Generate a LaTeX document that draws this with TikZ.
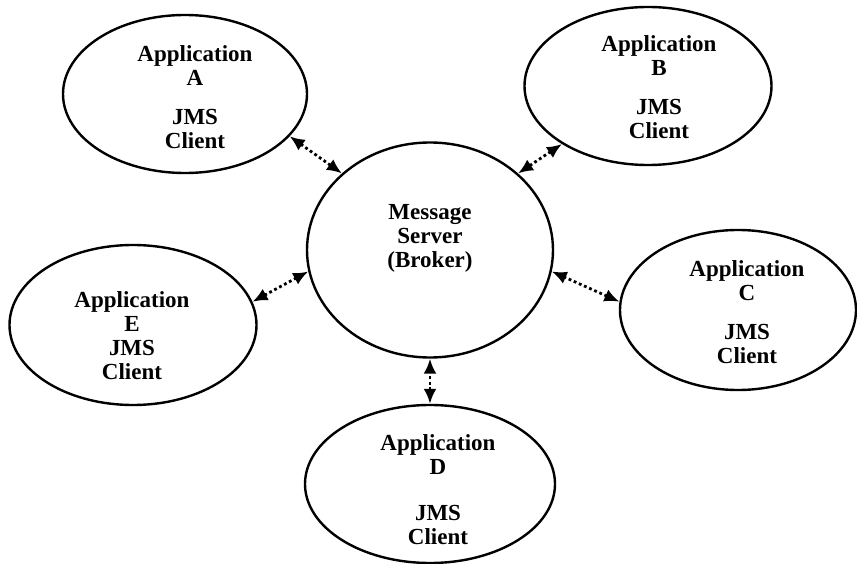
\documentclass[tikz,border=0pt]{standalone}
\usepackage{fontspec}
\setmainfont{Liberation Serif}
\usetikzlibrary{arrows.meta,shapes.geometric}

\tikzset{
  app/.style={ellipse, draw=black, line width=2.4pt, inner sep=0pt,
    minimum width=244pt, minimum height=158pt},
  lbl/.style={align=center, inner sep=0pt,
    font=\bfseries\fontsize{23}{24}\selectfont},
  link/.style={line width=2.8pt, dash pattern=on 2.8pt off 2.8pt,
    {Latex[length=15pt,width=13pt]}-{Latex[length=15pt,width=13pt]}},
}

\begin{document}
\begin{tikzpicture}[x=1pt,y=-1pt]
  \useasboundingbox (0,0) rectangle (857,564);

  % message server in the middle
  \node[app, minimum width=246pt, minimum height=215pt] (srv) at (430,250) {};
  \node[lbl] (srvtext) at (430,238) {Message\\Server\\(Broker)};

  % client applications around it
  \node[app] (appA) at (185,94) {};
  \node[lbl] (textA) at (195,97) {Application\\A\\[15pt]JMS\\Client};

  \node[app, minimum width=247pt] (appB) at (648,86) {};
  \node[lbl] (textB) at (659,87) {Application\\B\\[15pt]JMS\\Client};

  \node[app, minimum width=236pt, minimum height=160pt] (appC) at (738,310) {};
  \node[lbl] (textC) at (747,312) {Application\\C\\[15pt]JMS\\Client};

  \node[app, minimum width=250pt] (appD) at (430,484) {};
  \node[lbl] (textD) at (438,490) {Application\\D\\[22pt]JMS\\Client};

  \node[app, minimum width=247pt, minimum height=160pt] (appE) at (133,325) {};
  \node[lbl] (textE) at (132,336) {Application\\E\\JMS\\Client};

  % two-way links between the server and each client
  \draw[link] (appA.-22) -- (srv.139);
  \draw[link] (appB.214) -- (srv.41);
  \draw[link] (appC.176) -- (srv.-10);
  \draw[link] (appD.north) -- (srv.south);
  \draw[link] (appE.11) -- (srv.190);
\end{tikzpicture}
\end{document}
